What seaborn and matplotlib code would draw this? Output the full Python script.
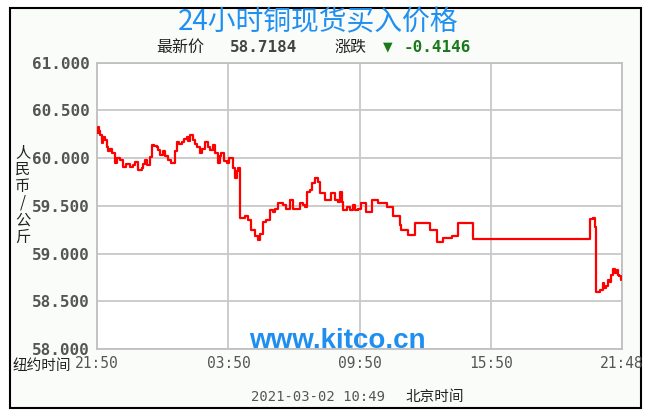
import numpy as np
import pandas as pd
import matplotlib.pyplot as plt
import matplotlib.patches as mpatches
import seaborn as sns

### chart values
# minutes since 21:50 (New York time axis)
minutes = [0, 3, 5, 8, 13, 16, 22, 27, 30, 36, 41, 49, 55, 63, 71, 79, 90, 99, 104, 112,
           122, 126, 131, 137, 145, 150, 156, 163, 167, 172, 181, 186, 194, 204, 213, 218,
           224, 232, 238, 246, 249, 255, 263, 268, 273, 282, 287, 296, 304, 309, 318, 323,
           331, 337, 341, 348, 355, 361, 369, 372, 378, 383, 386, 391, 396, 405, 413, 423,
           432, 441, 446, 454, 464, 473, 482, 487, 495, 509, 519, 528, 536, 550, 556, 564,
           569, 574, 583, 588, 597, 605, 610, 619, 624, 637, 642, 651, 660, 665, 670, 673,
           684, 692, 701, 706, 714, 724, 734, 738, 747, 752, 766, 769, 793, 810, 829, 834,
           851, 870, 911, 930, 947, 971, 988, 1029, 1349, 1358, 1363, 1368, 1377, 1385,
           1390, 1395, 1399, 1404, 1409, 1412, 1418, 1423, 1427, 1431, 1436]
prices = [60.26, 60.33, 60.28, 60.24, 60.16, 60.22, 60.19, 60.12, 60.07, 60.10, 60.05, 59.95,
          60.00, 59.98, 59.91, 59.94, 59.91, 59.93, 59.96, 59.88, 59.90, 59.94, 59.98, 59.93,
          60.01, 60.14, 60.13, 60.12, 60.08, 60.03, 60.07, 60.02, 59.98, 59.95, 60.07, 60.17,
          60.15, 60.17, 60.20, 60.22, 60.18, 60.24, 60.19, 60.15, 60.12, 60.05, 60.10, 60.17,
          60.12, 60.09, 60.14, 60.05, 59.95, 60.02, 60.05, 59.97, 59.95, 60.00, 60.00, 59.90,
          59.79, 59.86, 59.90, 59.37, 59.37, 59.39, 59.35, 59.25, 59.18, 59.14, 59.21, 59.33,
          59.35, 59.46, 59.44, 59.47, 59.53, 59.51, 59.47, 59.56, 59.47, 59.47, 59.53, 59.51,
          59.49, 59.65, 59.67, 59.74, 59.79, 59.75, 59.63, 59.63, 59.56, 59.56, 59.63, 59.56,
          59.54, 59.65, 59.54, 59.46, 59.49, 59.46, 59.51, 59.46, 59.47, 59.53, 59.53, 59.44,
          59.44, 59.56, 59.56, 59.53, 59.49, 59.39, 59.30, 59.25, 59.19, 59.32, 59.25, 59.12,
          59.16, 59.18, 59.32, 59.15, 59.36, 59.37, 59.28, 58.60, 58.62, 58.69, 58.64, 58.66,
          58.72, 58.70, 58.78, 58.84, 58.80, 58.83, 58.78, 58.76, 58.72]

x_ticks = [0, 360, 720, 1080, 1438]
x_labels = ['21:50', '03:50', '09:50', '15:50', '21:48']
y_ticks = [58.0, 58.5, 59.0, 59.5, 60.0, 60.5, 61.0]

title = '24小时铜现货买入价格'
latest = '58.7184'
change = '-0.4146'
stamp = '2021-03-02 10:49'

W, H = 651, 417

def px(x, y):
    return x / W, 1 - y / H

sns.set_style('white')
plt.rcParams['font.family'] = ['Noto Sans CJK SC', 'DejaVu Sans']

fig = plt.figure(figsize=(W / 100, H / 100), dpi=100)
fig.patch.set_facecolor('white')
fig.patches.append(mpatches.Rectangle(px(10, 408), 631 / W, 400 / H, transform=fig.transFigure,
                                      facecolor='#fafcfa', edgecolor='black', lw=1.5, zorder=-1))

l, b = px(97, 349)
r, t = px(622, 62.7)
ax = fig.add_axes([l, b, r - l, t - b])
ax.set_zorder(2)

df = pd.DataFrame({'minute': minutes, 'price': prices})
sns.lineplot(data=df, x='minute', y='price', ax=ax, color='#ff0000', lw=1.6,
             drawstyle='steps-post', estimator=None, sort=False, zorder=3)

ax.set_xlim(0, 1438)
ax.set_ylim(58, 61)
ax.set_xticks(x_ticks)
ax.set_xticklabels(x_labels, family='DejaVu Sans Mono', fontsize=10.5, color='#555555')
ax.set_yticks(y_ticks)
ax.set_yticklabels(['%.3f' % v for v in y_ticks], family='DejaVu Sans Mono',
                   fontweight='bold', fontsize=11.5, color='#555555')
ax.tick_params(length=0, pad=5)
ax.set_xlabel('')
ax.set_ylabel('')
ax.grid(True, color='#c8c8c8', lw=1.3)
ax.set_facecolor('white')
for s in ax.spines.values():
    s.set_color('#c0c0c0')
    s.set_linewidth(1.3)

# header
fig.text(*px(318, 22), title, ha='center', va='center', fontsize=20, color='#2090f0')
fig.text(*px(180, 47), '最新价', ha='center', va='center', fontsize=11.5, color='#222222')
fig.text(*px(264, 47), latest, ha='center', va='center', family='DejaVu Sans Mono',
         fontweight='bold', fontsize=11.5, color='#444444')
fig.text(*px(350, 47), '涨跌', ha='center', va='center', fontsize=11.5, color='#222222')
fig.text(*px(388, 47), '▼', ha='center', va='center', family='DejaVu Sans',
         fontsize=9, color='#1a7a1a')
fig.text(*px(437, 47), change, ha='center', va='center', family='DejaVu Sans Mono',
         fontweight='bold', fontsize=11.5, color='#1a7a1a')

# side and bottom labels
fig.text(*px(23, 195), '\n'.join('人民币/公斤'), ha='center', va='center', fontsize=11,
         linespacing=1.0, color='#222222')
fig.text(*px(42, 366), '纽约时间', ha='center', va='center', fontsize=10.5, color='#222222')
fig.text(*px(337, 341), 'www.kitco.cn', ha='center', va='center', family='Liberation Sans',
         fontweight='bold', fontsize=20, color='#1e8ff0', zorder=5)
fig.text(*px(318, 397), stamp, ha='center', va='center', family='DejaVu Sans Mono',
         fontsize=10, color='#555555')
fig.text(*px(435, 397), '北京时间', ha='center', va='center', fontsize=10.5, color='#222222')

plt.savefig('out.png', dpi=100)
